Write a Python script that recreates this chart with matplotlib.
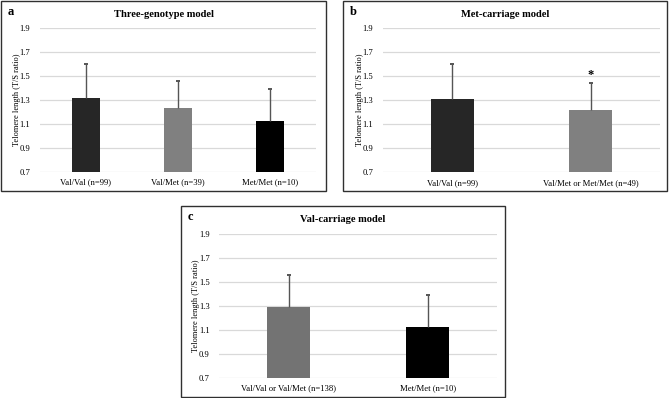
import matplotlib
matplotlib.use("Agg")
import matplotlib.pyplot as plt
from matplotlib.patches import Rectangle

plt.rcParams['font.family'] = ['Liberation Serif', 'DejaVu Serif']

W, H = 669, 398

# ---- data ----
cats_a = ["Val/Val (n=99)", "Val/Met (n=39)", "Met/Met (n=10)"]
means_a = [1.314, 1.236, 1.127]
sd_a = [0.285, 0.220, 0.265]

cats_b = ["Val/Val (n=99)", "Val/Met or Met/Met (n=49)"]
means_b = [1.312, 1.215]
sd_b = [0.288, 0.226]
star_b = ["", "*"]

cats_c = ["Val/Val or Val/Met (n=138)", "Met/Met (n=10)"]
means_c = [1.292, 1.124]
sd_c = [0.265, 0.266]

yticks = [0.7, 0.9, 1.1, 1.3, 1.5, 1.7, 1.9]

fig = plt.figure(figsize=(W / 100, H / 100), dpi=100)


def fr(x0, y0, x1, y1):
    return [x0 / W, 1 - y1 / H, (x1 - x0) / W, (y1 - y0) / H]


def panel(box, axbox, letter, title, cats, means, sds, colors, stars=None):
    x0, y0, x1, y1 = box
    fig.patches.append(Rectangle((x0 / W, 1 - y1 / H), (x1 - x0) / W, (y1 - y0) / H,
                                 transform=fig.transFigure, fill=False,
                                 edgecolor="#303030", linewidth=1.0))
    fig.text((x0 + 7) / W, 1 - (y0 + 11) / H, letter, fontsize=9, fontweight="bold",
             ha="left", va="center")
    fig.text((x0 + x1) / 2 / W, 1 - (y0 + 13.5) / H, title, fontsize=7.6,
             fontweight="bold", ha="center", va="center")
    ax = fig.add_axes(fr(*axbox))
    xs = list(range(len(cats)))
    ax.bar(xs, [m - 0.7 for m in means], bottom=0.7, width=0.31, color=colors, zorder=3)
    tops = [m + s for m, s in zip(means, sds)]
    ax.vlines(xs, means, tops, color="#555555", linewidth=1.0, zorder=4)
    ax.plot(xs, tops, linestyle="none", marker="_", markersize=3.2,
            markeredgewidth=1.4, color="#555555", zorder=4)
    if stars:
        for x, t, st in zip(xs, tops, stars):
            if st:
                ax.text(x, t + 0.065, st, ha="center", va="center", fontsize=9,
                        fontweight="bold")
    ax.set_xlim(-0.5, len(cats) - 0.5)
    ax.set_ylim(0.7, 1.9)
    ax.set_yticks(yticks)
    ax.set_yticklabels([f"{t:.1f}" for t in yticks], fontsize=6.2)
    ax.set_xticks(xs)
    ax.set_xticklabels(cats, fontsize=6.2)
    ax.tick_params(length=0, pad=5)
    ax.tick_params(axis="y", pad=7)
    ax.grid(axis="y", color="#d9d9d9", linewidth=0.9, zorder=0)
    for s in ax.spines.values():
        s.set_visible(False)
    ax.set_ylabel("Telomere length (T/S ratio)", fontsize=6, labelpad=-1)
    ax.set_facecolor("none")
    return ax


panel((1, 1, 326, 191), (40, 28.3, 316, 171.7), "a", "Three-genotype model",
      cats_a, means_a, sd_a, ["#262626", "#808080", "#000000"])
panel((343, 1, 667, 191), (383, 28.3, 660, 172), "b", "Met-carriage model",
      cats_b, means_b, sd_b, ["#262626", "#808080"], star_b)
panel((181, 206, 505, 397), (219.3, 234.3, 497.3, 377.7), "c", "Val-carriage model",
      cats_c, means_c, sd_c, ["#737373", "#000000"])

fig.savefig("out.png", dpi=100)
